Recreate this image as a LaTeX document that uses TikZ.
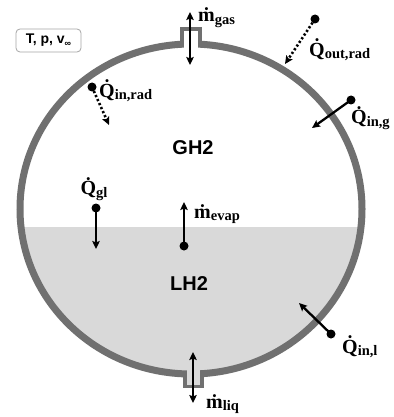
\documentclass[tikz,border=0pt]{standalone}
\usepackage{fontspec}
\setmainfont{Liberation Serif}
\newfontfamily\sansb{Liberation Sans}
\usetikzlibrary{arrows.meta}
\definecolor{wallgray}{HTML}{707070}
\definecolor{liqgray}{HTML}{D9D9D9}
\newcommand\myQ[1]{\.{Q}\raisebox{-0.3ex}{\fontsize{14.5}{14.5}\selectfont #1}}
\newcommand\myM[1]{\.{m}\raisebox{-0.3ex}{\fontsize{14.5}{14.5}\selectfont #1}}
\tikzset{
  wall/.style={draw=wallgray, line width=7pt},
  nozzle/.style={draw=wallgray, line width=3.5pt},
  arr/.style={line width=2.3pt, -{Stealth[length=8pt,width=7.5pt,inset=1.5pt]}},
  darr/.style={line width=2.3pt, {Stealth[length=8pt,width=7.5pt,inset=1.5pt]}-{Stealth[length=8pt,width=7.5pt,inset=1.5pt]}},
  dotarr/.style={line width=2.6pt, dash pattern=on 2.2pt off 2.2pt, -{Stealth[length=8pt,width=7.5pt,inset=1.5pt]}},
  pt/.style={circle, fill=black, inner sep=0pt, minimum size=9pt},
  lbl/.style={font=\bfseries\fontsize{20}{20}\selectfont, inner sep=0pt},
  phase/.style={font=\sansb\bfseries\fontsize{20}{20}\selectfont, inner sep=0pt},
  infobox/.style={draw=gray!70, line width=0.8pt, rounded corners=4pt, minimum width=65pt, minimum height=23pt, inner sep=0pt, font=\sansb\bfseries\fontsize{14}{14}\selectfont}
}
\begin{document}
\begin{tikzpicture}[x=1pt,y=-1pt]
\useasboundingbox[fill=white] (0,0) rectangle (393,417);
% liquid
\begin{scope}
\clip (191,209) ellipse [x radius=171, y radius=165];
\fill[liqgray] (0,227) rectangle (393,417);
\end{scope}
% tank wall
\draw[wall] (191,209) ellipse [x radius=171, y radius=165];
% top nozzle
\fill[white] (184,26) rectangle (198,49);
\draw[nozzle] (182,45) -- (182,29) -- (200,29) -- (200,45);
% bottom nozzle
\fill[liqgray] (187,369) rectangle (200,386);
\draw[nozzle] (185,372) -- (185,386.5) -- (202,386.5) -- (202,372);
% info box
\node[infobox] (info) at (48.5,40.5) {T, p, v\raisebox{-0.3ex}{\fontsize{9}{9}\selectfont ∞}};
% phases
\node[phase] (gh2) at (193,148) {GH2};
\node[phase] (lh2) at (189,284) {LH2};
% m gas
\coordinate (gasTop) at (190,12);
\coordinate (gasBot) at (190,65);
\draw[darr] (gasBot) -- (gasTop);
\node[lbl, anchor=west] (mgas) at (198,18) {\myM{gas}};
% m liq
\coordinate (liqTop) at (193,352);
\coordinate (liqBot) at (193,403);
\draw[darr] (liqTop) -- (liqBot);
\node[lbl, anchor=west] (mliq) at (206,404) {\myM{liq}};
% Q out rad
\node[pt] (qor) at (315,19) {};
\coordinate (qorEnd) at (285,64);
\draw[dotarr] (qor.center) -- (qorEnd);
\node[lbl, anchor=west] (qorL) at (309,50) {\myQ{out,rad}};
% Q in g
\node[pt] (qig) at (351,100) {};
\coordinate (qigEnd) at (312,128);
\draw[arr] (qig.center) -- (qigEnd);
\node[lbl, anchor=west] (qigL) at (351,118) {\myQ{in,g}};
% Q in rad
\node[pt] (qir) at (92,87) {};
\coordinate (qirEnd) at (109,125);
\draw[dotarr] (qir.center) -- (qirEnd);
\node[lbl, anchor=west] (qirL) at (99,91) {\myQ{in,rad}};
% Q gl
\node[pt] (qgl) at (96,208) {};
\coordinate (qglEnd) at (96,249);
\draw[arr] (qgl.center) -- (qglEnd);
\node[lbl] (qglL) at (94,189) {\myQ{gl}};
% m evap
\node[pt] (mev) at (184,246) {};
\coordinate (mevEnd) at (184,202);
\draw[arr] (mev.center) -- (mevEnd);
\node[lbl, anchor=west] (mevL) at (194,214) {\myM{evap}};
% Q in l
\node[pt] (qil) at (331,334) {};
\coordinate (qilEnd) at (299,303);
\draw[arr] (qil.center) -- (qilEnd);
\node[lbl, anchor=west] (qilL) at (342,347) {\myQ{in,l}};
\end{tikzpicture}
\end{document}
